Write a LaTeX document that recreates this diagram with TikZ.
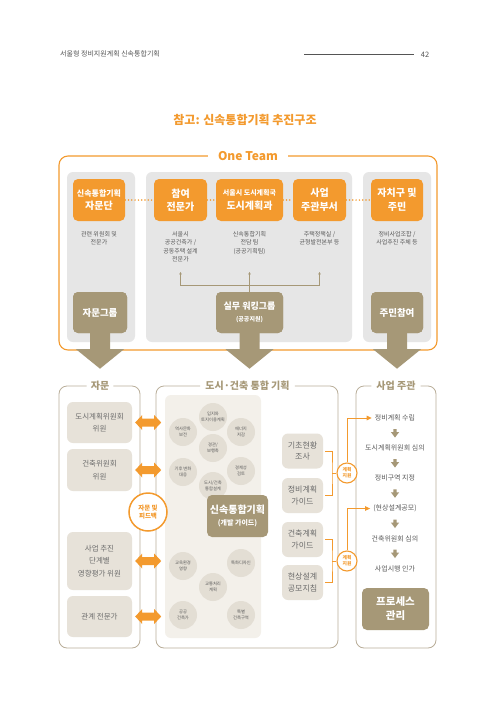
\documentclass[tikz,border=0pt]{standalone}
\usepackage{fontspec}
\setmainfont{Noto Sans CJK KR}
\usetikzlibrary{arrows.meta,calc}
\definecolor{og}{HTML}{F39A2E}
\definecolor{tn}{HTML}{A69877}
\definecolor{gp}{HTML}{E6E6E6}
\definecolor{lb}{HTML}{E7E2D9}
\definecolor{mp}{HTML}{F3F0EA}
\definecolor{cf}{HTML}{E3DED4}
\definecolor{fr}{HTML}{B9AE99}
\definecolor{txt}{HTML}{5A5A5A}
\definecolor{hdr}{HTML}{555555}
\newcommand\fsz[2]{\fontsize{#1}{#2}\selectfont}
\newcommand\bigdn[1]{\fill[tn] ($(#1)+(-10,-3)$) -- ($(#1)+(-10,16)$) -- ($(#1)+(-24,16)$) -- ($(#1)+(0,35.5)$) -- ($(#1)+(24,16)$) -- ($(#1)+(10,16)$) -- ($(#1)+(10,-3)$) -- cycle;}
\newcommand\dblarr[1]{\fill[og] ($(#1)+(-13,0)$) -- ++(7,-7.5) -- ++(0,3.5) -- ++(12,0) -- ++(0,-3.5) -- ++(7,7.5) -- ++(-7,7.5) -- ++(0,-3.5) -- ++(-12,0) -- ++(0,3.5) -- cycle;}
\newcommand\smdn[1]{\fill[tn] ($(#1)+(-1.6,-4)$) -- ++(3.2,0) -- ++(0,3) -- ++(2.6,0) -- ($(#1)+(0,4.5)$) -- ($(#1)+(-4.2,-1)$) -- ++(2.6,0) -- cycle;}
\begin{document}
\begin{tikzpicture}[x=1pt,y=-1pt,
  every node/.style={inner sep=0pt, align=center, text=txt},
  obox/.style={fill=og, rounded corners=5pt, minimum height=42pt, text=white, font=\bfseries\fsz{10}{13.5}},
  tbox/.style={fill=tn, rounded corners=5pt, text=white, font=\bfseries\fsz{9.5}{12}},
  panel/.style={fill=gp, rounded corners=6pt},
  lbx/.style={fill=lb, rounded corners=6pt, text=txt!90, font=\fsz{7.5}{12.5}},
  kbx/.style={fill=lb, rounded corners=6pt, text=txt!90, font=\fsz{8}{11.5}, minimum width=41pt, minimum height=35pt},
  desc/.style={anchor=north, font=\fsz{6}{8.5}},
  ci/.style={circle, fill=cf, minimum size=28pt, font=\fsz{4.3}{5.5}, text=txt},
  hd/.style={font=\bfseries\fsz{10}{12}, text=tn},
  fline/.style={draw=fr, line width=0.8pt, rounded corners=8pt},
  tl/.style={draw=tn, line width=0.6pt},
  ol/.style={draw=og, line width=1pt},
  pc/.style={circle, draw=og, line width=1.1pt, fill=white, minimum size=20pt, text=og, font=\bfseries\fsz{4.8}{6}},
  pt/.style={font=\fsz{7}{8}, inner xsep=3pt, inner ysep=1pt}
]
\fill[white] (0,0) rectangle (491,718);
\useasboundingbox (0,0) rectangle (491,718);

% header
\node[anchor=west, font=\fsz{7}{8}, text=hdr] (hdt) at (60,54) {서울형 정비지원계획 신속통합기획};
\coordinate (hl1) at (304,54); \coordinate (hl2) at (414,54);
\draw[hdr, line width=0.8pt] (hl1) -- (hl2);
\node[font=\fsz{7.5}{8}, text=hdr] (pg) at (425,54.5) {42};

% title
\node[font=\bfseries\fsz{12}{14}, text=og] (title) at (245,120) {참고: 신속통합기획 추진구조};

% One Team frame
\draw[og, line width=1.1pt, rounded corners=9pt] (59,156) rectangle (437,350);
\node[fill=white, inner xsep=10pt, inner ysep=2pt, font=\bfseries\fsz{12}{14}, text=og] (ot) at (248,156) {One Team};

% grey panels
\node[panel, minimum width=68pt, minimum height=170pt] (pl) at (101,257) {};
\node[panel, minimum width=206pt, minimum height=170pt] (pmid) at (249,257) {};
\node[panel, minimum width=68pt, minimum height=170pt] (pr) at (397,257) {};

% orange boxes
\node[obox, minimum width=52pt] (o1) at (99,200) {{\fsz{8}{10}신속통합기획}\\자문단};
\node[obox, minimum width=53pt] (o2) at (180.5,200) {참여\\전문가};
\node[obox, minimum width=67pt] (o3) at (249.5,200) {{\fsz{7}{9}서울시 도시계획국}\\도시계획과};
\node[obox, minimum width=53pt] (o4) at (319.5,200) {사업\\주관부서};
\node[obox, minimum width=52pt] (o5) at (397,200) {자치구 및\\주민};
\foreach \a/\b in {o1/o2,o2/o3,o3/o4,o4/o5}
  \draw[og, line width=1.7pt, line cap=round, dash pattern=on 0pt off 3.3pt] (\a.east) -- (\b.west);

% descriptions
\node[desc] (d1) at (99,231) {관련 위원회 및\\전문가};
\node[desc] (d2) at (180.5,231) {서울시\\공공건축가 /\\공동주택 설계\\전문가};
\node[desc] (d3) at (249.5,231) {신속통합기획\\전담 팀\\(공공기획팀)};
\node[desc] (d4) at (319.5,231) {주택정책실 /\\균형발전본부 등};
\node[desc] (d5) at (397,231) {정비사업조합 /\\사업추진 주체 등};

% tan boxes with big arrows
\node[tbox, minimum width=54pt, minimum height=41pt] (g1) at (100,312.5) {};
\node[tbox, minimum width=67pt, minimum height=41pt] (g2) at (249.5,312.5) {};
\node[tbox, minimum width=52pt, minimum height=41pt] (g3) at (397,312.5) {};
\bigdn{g1.south}
\bigdn{g2.south}
\bigdn{g3.south}
\node[tbox, minimum width=54pt, minimum height=41pt] (g1) at (100,312.5) {자문그룹};
\node[tbox, minimum width=67pt, minimum height=41pt] (g2) at (249.5,312.5) {{\fsz{9}{12}실무 워킹그룹}\\{\fsz{6}{8}(공공지원)}};
\node[tbox, minimum width=52pt, minimum height=41pt] (g3) at (397,312.5) {주민참여};

% working group connectors
\coordinate (j) at (249.5,285);
\coordinate (t2) at (180.5,272);
\coordinate (t3) at (249.5,272);
\coordinate (t4) at (319.5,272);
\draw[tl] (g2.north) -- (j);
\draw[tl, -{Stealth[length=2.5pt,width=2.5pt]}] (j) -| (t2);
\draw[tl, -{Stealth[length=2.5pt,width=2.5pt]}] (j) -| (t4);
\draw[tl, -{Stealth[length=2.5pt,width=2.5pt]}] (j) -- (t3);

% bottom headings and frames
\node[hd] (h1) at (100,386) {자문};
\node[hd] (h2) at (247.5,386) {도시·건축 통합 기획};
\node[hd] (h3) at (396,386) {사업 주관};
\draw[fline] ($(h1.east)+(4,0)$) -- (140,386) -- (140,648) -- (59,648) -- (59,386) -- ($(h1.west)+(-4,0)$);
\draw[fline] ($(h2.east)+(5,0)$) -- (338,386) -- (338,648) -- (156,648) -- (156,386) -- ($(h2.west)+(-5,0)$);
\draw[fline] ($(h3.east)+(5,0)$) -- (436,386) -- (436,648) -- (356,648) -- (356,386) -- ($(h3.west)+(-5,0)$);

% left boxes
\node[lbx, minimum width=65pt, minimum height=41pt] (b1) at (99.5,422.5) {도시계획위원회\\위원};
\node[lbx, minimum width=65pt, minimum height=42pt] (b2) at (99.5,470) {건축위원회\\위원};
\node[lbx, minimum width=65pt, minimum height=58pt] (b3) at (99.5,561) {사업 추진\\단계별\\영향평가 위원};
\node[lbx, minimum width=65pt, minimum height=41pt] (b4) at (99.5,616.5) {관계 전문가};

% middle panel
\node[fill=mp, rounded corners=6pt, minimum width=96pt, minimum height=243pt] (mpn) at (213,516.5) {};

% double arrows
\coordinate (a1) at ($(b1.east)+(16,0)$);
\coordinate (a2) at ($(b2.east)+(16,0)$);
\coordinate (a3) at ($(b3.east)+(16,0)$);
\coordinate (a4) at ($(b4.east)+(16,0)$);
\dblarr{a1}
\dblarr{a2}
\dblarr{a3}
\dblarr{a4}

% feedback circle
\node[circle, draw=og, line width=1.5pt, fill=white, minimum size=38pt, text=og, font=\bfseries\fsz{6.5}{8.5}] (fb) at (148,512) {자문 및\\피드백};

% circles
\node[ci] (c1) at (213,417) {입지와\\토지이용계획};
\node[ci] (c2) at (183,432) {역사문화\\보전};
\node[ci] (c3) at (241,432) {에너지\\저감};
\node[ci] (c4) at (213,448) {경관/\\보행축};
\node[ci] (c5) at (183,472) {기후 변화\\대응};
\node[ci] (c6) at (241,471) {경제성\\검토};
\node[ci] (c7) at (213,486) {도시/건축\\통합설계};
\node[ci] (c8) at (183,566) {교육환경\\영향};
\node[ci] (c9) at (241,563) {특화디자인};
\node[ci] (c10) at (213,587) {교통처리\\계획};
\node[ci] (c11) at (183,615) {공공\\건축가};
\node[ci] (c12) at (241,615) {특별\\건축구역};

% main tan box
\node[tbox, minimum width=61pt, minimum height=42pt] (sg) at (237.5,516) {{\fsz{10}{12.5}신속통합기획}\\{\fsz{7}{9}(개발 가이드)}};

% guide boxes
\node[kbx] (k1) at (302.5,451) {기초현황\\조사};
\node[kbx] (k2) at (302.5,495.5) {정비계획\\가이드};
\node[kbx] (k3) at (302.5,539.5) {건축계획\\가이드};
\node[kbx] (k4) at (302.5,582.5) {현상설계\\공모지침};

% process steps
\node[pt] (p1) at (395,418) {정비계획 수립};
\node[pt] (p2) at (395,448) {도시계획위원회 심의};
\node[pt] (p3) at (395,478) {정비구역 지정};
\node[pt] (p4) at (395,508.5) {(현상설계공모)};
\node[pt] (p5) at (395,538.5) {건축위원회 심의};
\node[pt] (p6) at (395,568.5) {사업시행 인가};
\foreach \a/\b in {p1/p2,p2/p3,p3/p4,p4/p5,p5/p6}{
  \coordinate (m) at ($(\a)!0.5!(\b)$);
  \smdn{m}
}
\node[tbox, minimum width=67pt, minimum height=42pt, font=\bfseries\fsz{10.5}{14}] (pm) at (395.5,609) {프로세스\\관리};

% brackets and support circles
\coordinate (br1) at (332,473);
\coordinate (br2) at (332,561);
\draw[ol] ([xshift=2pt]k1.east) -| (br1) |- ([xshift=2pt]k2.east);
\draw[ol] ([xshift=2pt]k3.east) -| (br2) |- ([xshift=2pt]k4.east);
\node[pc] (s1) at (347,473) {계획\\지원};
\node[pc] (s2) at (347,561) {계획\\지원};
\draw[ol] (br1) -- (s1.west);
\draw[ol] (br2) -- (s2.west);
\draw[ol, -{Triangle[length=5pt,width=4.5pt]}] (s1.north) |- (p1.west);
\draw[ol, -{Triangle[length=5pt,width=4.5pt]}] (s2.north) |- (p4.west);
\end{tikzpicture}
\end{document}
